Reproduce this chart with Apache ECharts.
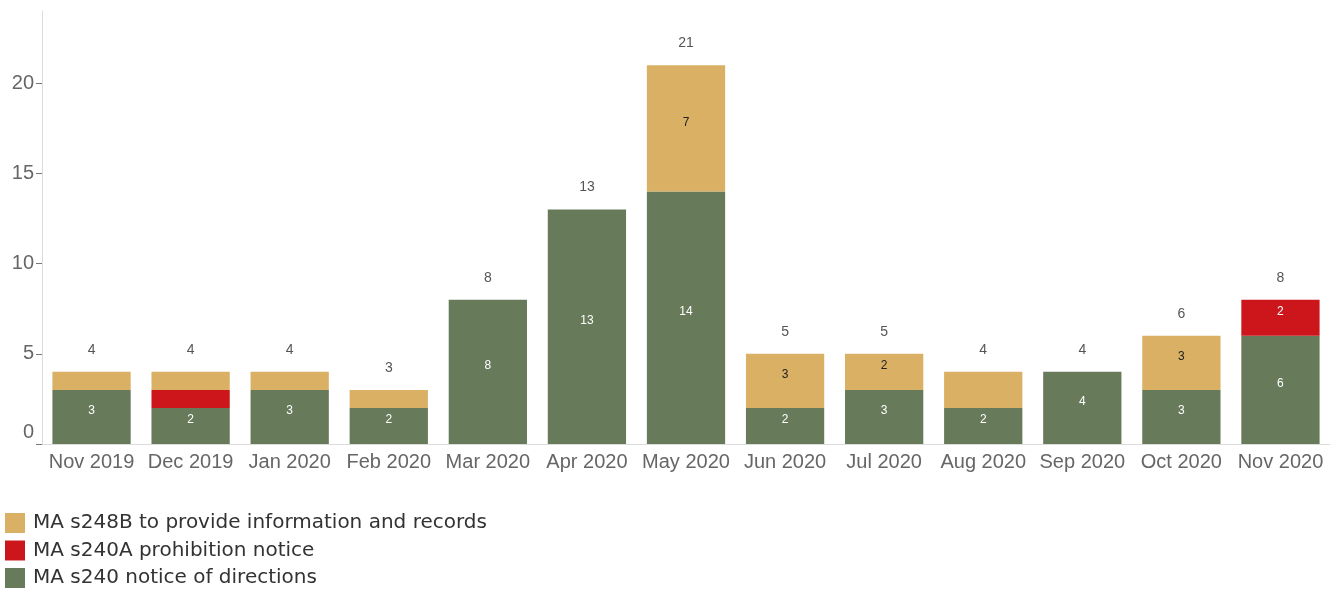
<!DOCTYPE html>
<html>
<head>
<meta charset="utf-8">
<script src="https://cdn.jsdelivr.net/npm/echarts@6/dist/echarts.min.js"></script>
<style>html,body{margin:0;padding:0;background:#fff}#c{width:1336px;height:590px}</style>
</head>
<body>
<div id="c"></div>
<script>
const categories = ['Nov 2019','Dec 2019','Jan 2020','Feb 2020','Mar 2020','Apr 2020','May 2020','Jun 2020','Jul 2020','Aug 2020','Sep 2020','Oct 2020','Nov 2020'];
const s240 = [3,2,3,2,8,13,14,2,3,2,4,3,6];
const s240A = [0,1,0,0,0,0,0,0,0,0,0,0,2];
const s248B = [1,1,1,1,0,0,7,3,2,2,0,3,0];
const s248BUnlabelled = ['Aug 2020'];
const yTicks = [0,5,10,15,20];
const totals = categories.map((c,i)=>s240[i]+s240A[i]+s248B[i]);

const FONT = '"Liberation Sans", Arial, sans-serif';
const LEGEND_FONT = '"DejaVu Sans", sans-serif';
const chart = echarts.init(document.getElementById('c'), null, {renderer:'canvas'});

function segLabel(color){
  return {show:true, position:'inside', offset:[0,-6], color:color, fontSize:12, fontFamily:FONT,
    formatter: p => (p.value >= 2 ? String(p.value) : '')};
}

chart.setOption({
  animation:false,
  textStyle:{fontFamily:FONT},
  grid:{left:42, right:6, top:11, bottom:146},
  legend:{
    orient:'vertical', left:5, top:513, padding:0, itemWidth:20, itemHeight:20, itemGap:7.5,
    icon:'rect', data:['MA s248B to provide information and records','MA s240A prohibition notice','MA s240 notice of directions'],
    textStyle:{fontSize:20, color:'#333', fontFamily:LEGEND_FONT, padding:[2,0,0,3]}
  },
  xAxis:{
    type:'category', data:categories,
    axisLine:{show:true, lineStyle:{color:'#dcdcdc', width:1}},
    axisTick:{show:false},
    axisLabel:{color:'#666', fontSize:20, margin:8, fontFamily:FONT, interval:0}
  },
  yAxis:{
    type:'value', min:0, max:24, interval:5,
    splitLine:{show:false},
    axisLine:{show:true, lineStyle:{color:'#dcdcdc', width:1}},
    axisTick:{show:true, length:6, lineStyle:{color:'#777'}, customValues:yTicks},
    axisLabel:{color:'#666', fontSize:20, margin:8, fontFamily:FONT, customValues:yTicks,
      formatter: v => v === 0 ? '{z|0}' : String(v),
      rich:{z:{fontSize:20, color:'#666', fontFamily:FONT, padding:[0,0,24,0]}}}
  },
  series:[
    {name:'MA s240 notice of directions', type:'bar', stack:'t', data:s240, barCategoryGap:'21%',
      itemStyle:{color:'#677a5a'}, label:segLabel('#fff')},
    {name:'MA s240A prohibition notice', type:'bar', stack:'t', data:s240A,
      itemStyle:{color:'#cc161c'}, label:segLabel('#fff')},
    {name:'MA s248B to provide information and records', type:'bar', stack:'t',
      data:s248B.map((v,i)=> s248BUnlabelled.includes(categories[i]) ? {value:v, label:{show:false}} : v),
      itemStyle:{color:'#d9b064'}, label:segLabel('#222')},
    {name:'total', type:'bar', data:totals, barGap:'-100%', z:0,
      itemStyle:{color:'rgba(0,0,0,0)'}, silent:true,
      label:{show:true, position:'top', distance:15, color:'#555', fontSize:14, fontFamily:FONT}}
  ]
});
</script>
</body>
</html>
